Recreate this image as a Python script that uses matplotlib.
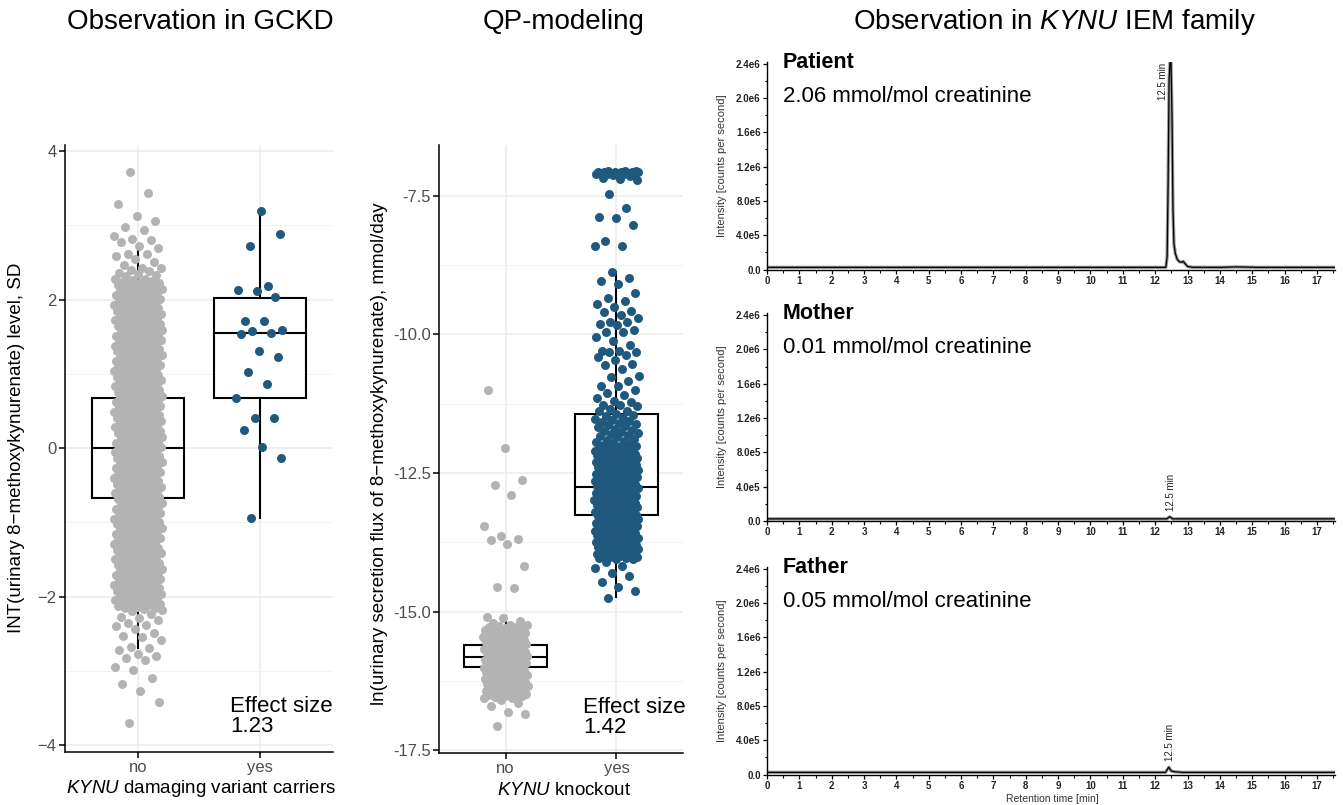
import numpy as np
import matplotlib.pyplot as plt
from matplotlib.ticker import MultipleLocator, FormatStrFormatter

plt.rcParams['font.family'] = ['Liberation Sans', 'DejaVu Sans']
plt.rcParams['mathtext.fontset'] = 'custom'
plt.rcParams['mathtext.rm'] = 'Liberation Sans'
plt.rcParams['mathtext.it'] = 'Liberation Sans:italic'
plt.rcParams['mathtext.bf'] = 'Liberation Sans:bold'

# ---- GCKD: INT(urinary 8-methoxykynurenate), SD
categories = ['no', 'yes']
# saturated cloud of non-carriers (thousands of points, values estimated)
gckd_no_core = [
    -2.18, -2.17, -2.16, -2.15, -2.14, -2.13, -2.12, -2.11, -2.10, -2.09,
    -2.08, -2.07, -2.06, -2.05, -2.04, -2.03, -2.02, -2.01, -2.00, -1.99,
    -1.98, -1.97, -1.96, -1.95, -1.94, -1.93, -1.92, -1.91, -1.90, -1.89,
    -1.88, -1.87, -1.86, -1.85, -1.84, -1.83, -1.82, -1.81, -1.80, -1.79,
    -1.78, -1.77, -1.76, -1.75, -1.74, -1.73, -1.72, -1.71, -1.70, -1.69,
    -1.68, -1.67, -1.66, -1.65, -1.64, -1.63, -1.62, -1.61, -1.60, -1.59,
    -1.58, -1.57, -1.56, -1.55, -1.54, -1.53, -1.52, -1.51, -1.50, -1.49,
    -1.48, -1.47, -1.46, -1.45, -1.44, -1.43, -1.42, -1.41, -1.40, -1.39,
    -1.38, -1.37, -1.36, -1.35, -1.34, -1.33, -1.32, -1.31, -1.30, -1.29,
    -1.28, -1.27, -1.26, -1.25, -1.24, -1.23, -1.22, -1.21, -1.20, -1.19,
    -1.18, -1.17, -1.16, -1.15, -1.14, -1.13, -1.12, -1.11, -1.10, -1.09,
    -1.08, -1.07, -1.06, -1.05, -1.04, -1.03, -1.02, -1.01, -1.00, -0.99,
    -0.98, -0.97, -0.96, -0.95, -0.94, -0.93, -0.92, -0.91, -0.90, -0.89,
    -0.88, -0.87, -0.86, -0.85, -0.84, -0.83, -0.82, -0.81, -0.80, -0.79,
    -0.78, -0.77, -0.76, -0.75, -0.74, -0.73, -0.72, -0.71, -0.70, -0.69,
    -0.68, -0.67, -0.66, -0.65, -0.64, -0.63, -0.62, -0.61, -0.60, -0.59,
    -0.58, -0.57, -0.56, -0.55, -0.54, -0.53, -0.52, -0.51, -0.50, -0.49,
    -0.48, -0.47, -0.46, -0.45, -0.44, -0.43, -0.42, -0.41, -0.40, -0.39,
    -0.38, -0.37, -0.36, -0.35, -0.34, -0.33, -0.32, -0.31, -0.30, -0.29,
    -0.28, -0.27, -0.26, -0.25, -0.24, -0.23, -0.22, -0.21, -0.20, -0.19,
    -0.18, -0.17, -0.16, -0.15, -0.14, -0.13, -0.12, -0.11, -0.10, -0.09,
    -0.08, -0.07, -0.06, -0.05, -0.04, -0.03, -0.02, -0.01, 0.00, 0.01,
    0.02, 0.03, 0.04, 0.05, 0.06, 0.07, 0.08, 0.09, 0.10, 0.11,
    0.12, 0.13, 0.14, 0.15, 0.16, 0.17, 0.18, 0.19, 0.20, 0.21,
    0.22, 0.23, 0.24, 0.25, 0.26, 0.27, 0.28, 0.29, 0.30, 0.31,
    0.32, 0.33, 0.34, 0.35, 0.36, 0.37, 0.38, 0.39, 0.40, 0.41,
    0.42, 0.43, 0.44, 0.45, 0.46, 0.47, 0.48, 0.49, 0.50, 0.51,
    0.52, 0.53, 0.54, 0.55, 0.56, 0.57, 0.58, 0.59, 0.60, 0.61,
    0.62, 0.63, 0.64, 0.65, 0.66, 0.67, 0.68, 0.69, 0.70, 0.71,
    0.72, 0.73, 0.74, 0.75, 0.76, 0.77, 0.78, 0.79, 0.80, 0.81,
    0.82, 0.83, 0.84, 0.85, 0.86, 0.87, 0.88, 0.89, 0.90, 0.91,
    0.92, 0.93, 0.94, 0.95, 0.96, 0.97, 0.98, 0.99, 1.00, 1.01,
    1.02, 1.03, 1.04, 1.05, 1.06, 1.07, 1.08, 1.09, 1.10, 1.11,
    1.12, 1.13, 1.14, 1.15, 1.16, 1.17, 1.18, 1.19, 1.20, 1.21,
    1.22, 1.23, 1.24, 1.25, 1.26, 1.27, 1.28, 1.29, 1.30, 1.31,
    1.32, 1.33, 1.34, 1.35, 1.36, 1.37, 1.38, 1.39, 1.40, 1.41,
    1.42, 1.43, 1.44, 1.45, 1.46, 1.47, 1.48, 1.49, 1.50, 1.51,
    1.52, 1.53, 1.54, 1.55, 1.56, 1.57, 1.58, 1.59, 1.60, 1.61,
    1.62, 1.63, 1.64, 1.65, 1.66, 1.67, 1.68, 1.69, 1.70, 1.71,
    1.72, 1.73, 1.74, 1.75, 1.76, 1.77, 1.78, 1.79, 1.80, 1.81,
    1.82, 1.83, 1.84, 1.85, 1.86, 1.87, 1.88, 1.89, 1.90, 1.91,
    1.92, 1.93, 1.94, 1.95, 1.96, 1.97, 1.98, 1.99, 2.00, 2.01,
    2.02, 2.03, 2.04, 2.05, 2.06, 2.07, 2.08, 2.09, 2.10, 2.11,
    2.12, 2.13, 2.14, 2.15, 2.16, 2.17, 2.18, 2.19, 2.20, 2.21,
    2.22, 2.23, 2.24, 2.25, 2.26, 2.27, 2.28,
]
gckd_no_tails = [3.72, 3.43, 3.29, 3.12, 3.06, 2.98, 2.93, 2.86, 2.82, 2.80, 2.77, 2.72,
                 2.69, 2.61, 2.61, 2.58, 2.55, 2.51, 2.46, 2.43, 2.42, 2.40, 2.38, 2.36,
                 2.35, 2.33, 2.31,
                 -2.20, -2.23, -2.27, -2.29, -2.31, -2.35, -2.38, -2.40, -2.44, -2.49,
                 -2.53, -2.54, -2.59, -2.68, -2.70, -2.72, -2.77, -2.80, -2.83, -2.85,
                 -2.95, -2.99, -3.10, -3.18, -3.27, -3.42, -3.71]
gckd_yes = [3.19, 2.88, 2.72, 2.18, 2.04, 2.13, 2.12, 1.71, 1.71, 1.54, 1.57, 1.59,
            1.55, 1.31, 1.23, 1.02, 0.86, 0.68, 0.41, 0.41, 0.24, 0.01, -0.14, -0.94]
# box stats per group: q1, median, q3, lower whisker, upper whisker
gckd_box = [(-0.67, 0.00, 0.68, -2.70, 2.69), (0.67, 1.55, 2.02, -0.94, 3.17)]
gckd_effect = 1.23

# ---- QP-modeling: ln(urinary secretion flux), mmol/day
qp_no_core = [
    -15.24, -15.25, -15.26, -15.27, -15.28, -15.29, -15.30, -15.31, -15.32, -15.33,
    -15.34, -15.35, -15.36, -15.37, -15.38, -15.39, -15.40, -15.41, -15.42, -15.43,
    -15.44, -15.45, -15.46, -15.47, -15.48, -15.49, -15.50, -15.51, -15.52, -15.53,
    -15.54, -15.55, -15.56, -15.57, -15.58, -15.59, -15.60, -15.61, -15.62, -15.63,
    -15.64, -15.65, -15.66, -15.67, -15.68, -15.69, -15.70, -15.71, -15.72, -15.73,
    -15.74, -15.75, -15.76, -15.77, -15.78, -15.79, -15.80, -15.81, -15.82, -15.83,
    -15.84, -15.85, -15.86, -15.87, -15.88, -15.89, -15.90, -15.91, -15.92, -15.93,
    -15.94, -15.95, -15.96, -15.97, -15.98, -15.99, -16.00, -16.01, -16.02, -16.03,
    -16.04, -16.05, -16.06, -16.07, -16.08, -16.09, -16.10, -16.11, -16.12, -16.13,
    -16.14, -16.15, -16.16, -16.17, -16.18, -16.19, -16.20, -16.21, -16.22, -16.23,
    -16.24, -16.25, -16.26, -16.27, -16.28, -16.29, -16.30, -16.31, -16.32, -16.33,
    -16.34, -16.35, -16.36, -16.37, -16.38, -16.39, -16.40, -16.41, -16.42, -16.43,
    -16.44, -16.45, -16.46, -16.47, -16.48, -16.49, -16.50, -16.51, -16.52, -16.53,
    -16.54, -16.55, -16.56,
]
qp_no_tails = [-11.01, -12.05, -12.63, -12.71, -12.89, -13.45, -13.63, -13.69, -13.70,
               -13.79, -14.17, -14.55, -14.58, -15.09, -15.12, -15.17, -15.20,
               -16.60, -16.65, -16.70, -16.81, -16.84, -17.06]
qp_yes_cap = [-7.05, -7.06, -7.06, -7.07, -7.07, -7.08, -7.08, -7.08, -7.08, -7.09, -7.09,
              -7.09, -7.10, -7.10, -7.10, -7.11, -7.11, -7.12, -7.14, -7.18, -7.20, -7.22]
qp_yes_mid = [-7.47, -7.73, -7.89, -7.91, -8.03, -8.32, -8.40, -8.41, -8.87, -8.99, -9.03,
              -9.10, -9.25, -9.35, -9.40, -9.46, -9.50, -9.58, -9.59, -9.65, -9.70, -9.77,
              -9.77, -9.81, -9.84, -9.92, -9.95, -9.95, -10.05, -10.12, -10.20, -10.30,
              -10.30, -10.32, -10.32, -10.38, -10.40, -10.47, -10.53, -10.55, -10.62,
              -10.75, -10.77, -10.85, -10.94, -10.94, -11.00, -11.06, -11.10, -11.15,
              -11.20, -11.22, -11.28, -11.28, -11.30, -11.35, -11.39, -11.39]
qp_yes_core = [
    -11.44, -11.46, -11.48, -11.50, -11.52, -11.54, -11.56, -11.58, -11.60, -11.62,
    -11.64, -11.66, -11.68, -11.70, -11.72, -11.74, -11.76, -11.78, -11.80, -11.82,
    -11.84, -11.86, -11.88, -11.90, -11.92, -11.94, -11.96, -11.98,
    -12.00, -12.01, -12.02, -12.03, -12.04, -12.05, -12.06, -12.07, -12.08, -12.09,
    -12.10, -12.11, -12.12, -12.13, -12.14, -12.15, -12.16, -12.17, -12.18, -12.19,
    -12.20, -12.21, -12.22, -12.23, -12.24, -12.25, -12.26, -12.27, -12.28, -12.29,
    -12.30, -12.31, -12.32, -12.33, -12.34, -12.35, -12.36, -12.37, -12.38, -12.39,
    -12.40, -12.41, -12.42, -12.43, -12.44, -12.45, -12.46, -12.47, -12.48, -12.49,
    -12.50, -12.51, -12.52, -12.53, -12.54, -12.55, -12.56, -12.57, -12.58, -12.59,
    -12.60, -12.61, -12.62, -12.63, -12.64, -12.65, -12.66, -12.67, -12.68, -12.69,
    -12.70, -12.71, -12.72, -12.73, -12.74, -12.75, -12.76, -12.77, -12.78, -12.79,
    -12.80, -12.81, -12.82, -12.83, -12.84, -12.85, -12.86, -12.87, -12.88, -12.89,
    -12.90, -12.91, -12.92, -12.93, -12.94, -12.95, -12.96, -12.97, -12.98, -12.99,
    -13.00, -13.01, -13.02, -13.03, -13.04, -13.05, -13.06, -13.07, -13.08, -13.09,
    -13.10, -13.11, -13.12, -13.13, -13.14, -13.15, -13.16, -13.17, -13.18, -13.19,
    -13.20, -13.21, -13.22, -13.23, -13.24, -13.25, -13.26, -13.27, -13.28, -13.29,
    -13.30, -13.31, -13.32, -13.33, -13.34, -13.35, -13.36, -13.37, -13.38, -13.39,
    -13.40, -13.41, -13.42, -13.43, -13.44, -13.45, -13.46, -13.47, -13.48, -13.49,
    -13.50, -13.51, -13.52, -13.53, -13.54, -13.55, -13.56, -13.57, -13.58, -13.59,
    -13.60, -13.61, -13.62, -13.63, -13.64, -13.65, -13.66, -13.67, -13.68, -13.69,
    -13.70, -13.71, -13.72, -13.73, -13.74, -13.75, -13.76, -13.77, -13.78, -13.79,
    -13.80, -13.81, -13.82, -13.83, -13.84, -13.85, -13.86, -13.87, -13.88, -13.89,
    -13.90, -13.91, -13.92, -13.93, -13.94, -13.95, -13.96, -13.97, -13.98, -13.99,
    -14.00, -14.01, -14.02, -14.03, -14.04, -14.05, -14.06,
]
qp_yes_tail = [-14.10, -14.17, -14.22, -14.30, -14.35, -14.47, -14.56, -14.62, -14.75]
qp_box = [(-16.00, -15.81, -15.60, -16.50, -15.08), (-13.26, -12.75, -11.44, -14.73, -8.88)]
qp_effect = 1.42

# ---- KYNU IEM family chromatograms
chrom_names = ['Patient', 'Mother', 'Father']
chrom_conc = [2.06, 0.01, 0.05]
chrom_times = [
    [0.0, 12.33, 12.37, 12.40, 12.43, 12.46, 12.49, 12.52, 12.55, 12.58, 12.62, 12.68,
     12.75, 12.82, 12.87, 12.92, 13.00, 13.15, 14.0, 14.5, 15.2, 17.55],
    [0.0, 12.36, 12.45, 12.54, 17.55],
    [0.0, 12.32, 12.42, 12.50, 12.60, 12.85, 17.55],
]
chrom_intensity = [
    [2.5e4, 2.5e4, 1.5e5, 1.0e6, 2.2e6, 2.42e6, 2.42e6, 1.8e6, 7.0e5, 3.0e5, 1.9e5, 1.2e5,
     9.0e4, 8.5e4, 9.5e4, 7.0e4, 3.5e4, 2.6e4, 2.5e4, 3.0e4, 2.5e4, 2.5e4],
    [2.5e4, 2.5e4, 5.0e4, 2.5e4, 2.5e4],
    [2.5e4, 2.5e4, 8.5e4, 4.0e4, 3.2e4, 2.5e4, 2.5e4],
]
chrom_peak_label = '12.5 min'
chrom_yticks = [0, 4e5, 8e5, 1.2e6, 1.6e6, 2.0e6, 2.4e6]
chrom_yticklabels = ['0.0', '4.0e5', '8.0e5', '1.2e6', '1.6e6', '2.0e6', '2.4e6']

W, H = 1343, 805
GREY = '#B3B3B3'
BLUE = '#1F5A7E'
MINUS = '\u2212'

fig = plt.figure(figsize=(W / 100, H / 100), dpi=100)


def px_rect(left, top, right, bottom):
    return [left / W, 1 - bottom / H, (right - left) / W, (bottom - top) / H]


def fig_text(x, y, s, **kw):
    fig.text(x / W, 1 - y / H, s, ha='center', va='center', **kw)


def jitter(n, width=0.2):
    # deterministic spread instead of ggplot's random jitter
    return width * (2 * ((np.arange(n) * 0.6180339887 + 0.31) % 1.0) - 1)


def box_panel(ax, groups, box, ylim, major, fmt, effect, effect_x):
    ax.set_xlim(0.4, 2.6)
    ax.set_ylim(*ylim)
    stats = [dict(q1=b[0], med=b[1], q3=b[2], whislo=b[3], whishi=b[4], fliers=[]) for b in box]
    line = dict(color='black', linewidth=1.5)
    ax.bxp(stats, positions=[1, 2], widths=0.75, showcaps=False, showfliers=False,
           patch_artist=True, manage_ticks=False,
           boxprops=dict(facecolor='white', edgecolor='black', linewidth=1.5),
           medianprops=line, whiskerprops=line, zorder=2)
    for pos, (vals, color) in enumerate(groups, start=1):
        y = np.sort(np.asarray(vals, dtype=float))
        ax.scatter(pos + jitter(len(y)), y, s=42, color=color, linewidths=0, zorder=3)

    ax.set_xticks([1, 2], labels=categories)
    ax.yaxis.set_major_locator(MultipleLocator(major))
    ax.yaxis.set_minor_locator(MultipleLocator(major, offset=major / 2))
    if fmt:
        ax.yaxis.set_major_formatter(FormatStrFormatter(fmt))
    ax.grid(True, which='major', color='#EBEBEB', linewidth=1.1)
    ax.grid(True, which='minor', axis='y', color='#F3F3F3', linewidth=0.7)
    ax.set_axisbelow(True)
    ax.tick_params(which='major', length=4, width=1.1, pad=2, labelsize=12,
                   labelcolor='#4D4D4D')
    ax.tick_params(which='minor', length=0)
    for s in ['top', 'right']:
        ax.spines[s].set_visible(False)
    for s in ['left', 'bottom']:
        ax.spines[s].set_linewidth(1.1)
    ax.text(effect_x, 0.024, f'Effect size\n{effect:.2f}', transform=ax.transAxes,
            fontsize=16, ha='left', va='bottom', linespacing=0.95)


# GCKD panel
ax1 = fig.add_axes(px_rect(65, 145, 333, 752))
box_panel(ax1, [(gckd_no_core + gckd_no_tails, GREY), (gckd_yes, BLUE)], gckd_box,
          (-4.094, 4.081), 2, None, gckd_effect, 0.616)

# QP-modeling panel
ax2 = fig.add_axes(px_rect(439, 145, 683, 753))
box_panel(ax2, [(qp_no_core + qp_no_tails, GREY),
                (qp_yes_cap + qp_yes_mid + qp_yes_core + qp_yes_tail, BLUE)], qp_box,
          (-17.55, -6.586), 2.5, '%.1f', qp_effect, 0.59)

fig_text(200, 22, 'Observation in GCKD', fontsize=20)
fig_text(564, 22, 'QP-modeling', fontsize=20)
fig_text(1054, 22, r'Observation in $\mathit{KYNU}$ IEM family', fontsize=20)
fig_text(17, 448, f'INT(urinary 8{MINUS}methoxykynurenate) level, SD', rotation=90, fontsize=13.5)
fig_text(379, 454, f'ln(urinary secretion flux of 8{MINUS}methoxykynurenate), mmol/day',
         rotation=90, fontsize=13.5)
fig_text(201, 788, r'$\mathit{KYNU}$ damaging variant carriers', fontsize=13.5)
fig_text(564, 790, r'$\mathit{KYNU}$ knockout', fontsize=13.5)

# chromatograms
chrom_rows = [(61.8, 269.5), (313.3, 521.0), (566.8, 774.5)]
for k, name in enumerate(chrom_names):
    top, bottom = chrom_rows[k]
    ax = fig.add_axes(px_rect(767, top, 1334.7, bottom))
    t = np.asarray(chrom_times[k])
    y = np.asarray(chrom_intensity[k])
    ax.plot(t, y, color='#9A9A9A', lw=2.4, zorder=2)
    ax.plot(t, y, color='black', lw=0.9, zorder=3)
    ax.set_xlim(0, 17.55)
    ax.set_ylim(0, 2.42e6)
    ax.set_xticks(range(18), labels=[str(i) for i in range(18)], fontsize=7, fontweight='bold')
    ax.xaxis.set_minor_locator(MultipleLocator(0.5))
    ax.set_yticks(chrom_yticks, labels=chrom_yticklabels, fontsize=7, fontweight='bold')
    ax.yaxis.set_minor_locator(MultipleLocator(2e5))
    ax.tick_params(which='major', length=3, width=0.9, pad=1.5, labelcolor='#222222')
    ax.tick_params(which='minor', length=1.8, width=0.8)
    for s in ['top', 'right']:
        ax.spines[s].set_visible(False)
    for s in ['left', 'bottom']:
        ax.spines[s].set_linewidth(1.0)

    ip = int(np.argmax(y))
    if y[ip] > 1e6:
        ax.text(t[ip] - 0.22, 2.41e6, chrom_peak_label, rotation=90, fontsize=7,
                ha='center', va='top', color='#222222')
    else:
        ax.text(t[ip] + 0.03, y[ip] + 7e4, chrom_peak_label, rotation=90, fontsize=7,
                ha='center', va='bottom', color='#222222')

    ax.text(0.028, 0.997, name, transform=ax.transAxes, fontsize=15.5,
            fontweight='bold', ha='left', va='center')
    ax.text(0.028, 0.835, f'{chrom_conc[k]:.2f} mmol/mol creatinine', transform=ax.transAxes,
            fontsize=16, ha='left', va='center')
    fig_text(722, (top + bottom) / 2, 'Intensity [counts per second]', rotation=90,
             fontsize=8, color='#333333')

fig_text(1052, 799, 'Retention time [min]', fontsize=7.5, color='#333333')

fig.savefig('out.png', dpi=100)
